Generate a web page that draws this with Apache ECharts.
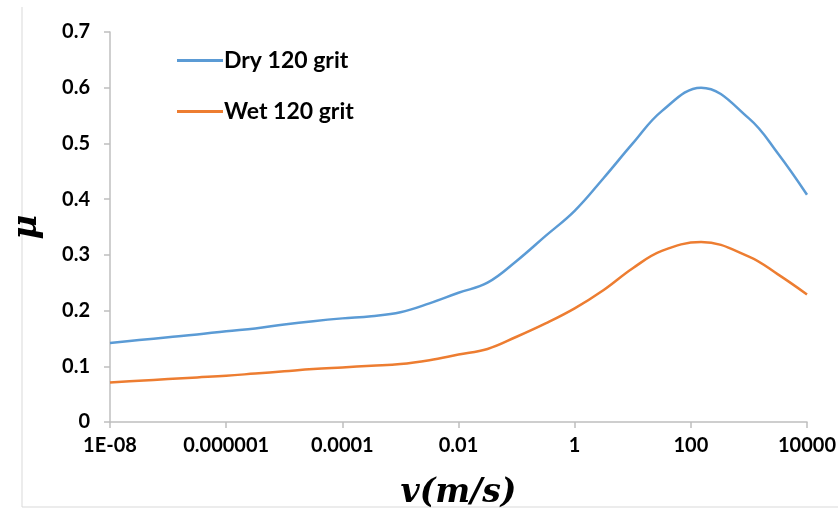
<!DOCTYPE html>
<html>
<head>
<meta charset="utf-8">
<script src="https://cdn.jsdelivr.net/npm/echarts@6/dist/echarts.min.js"></script>
<style>
  html, body { margin: 0; padding: 0; background: #fff; }
  #chart { width: 838px; height: 515px; }
</style>
</head>
<body>
<div id="chart"></div>
<script>
// speeds (m/s), read roughly every half decade plus the peak
var speeds = [1e-8, 3.16e-8, 1e-7, 3.16e-7, 1e-6, 3.16e-6, 1e-5, 3.16e-5, 1e-4, 3.16e-4,
              1e-3, 3.16e-3, 1e-2, 3.16e-2, 0.1, 0.316, 1, 3.16, 10, 31.6,
              150, 1000, 3160, 10000];
var dry120 = [0.142, 0.147, 0.152, 0.157, 0.163, 0.168, 0.175, 0.181, 0.186, 0.190,
              0.197, 0.213, 0.232, 0.250, 0.289, 0.334, 0.379, 0.438, 0.500, 0.558,
              0.600, 0.545, 0.482, 0.408];
var wet120 = [0.071, 0.074, 0.077, 0.080, 0.083, 0.087, 0.091, 0.095, 0.098, 0.101,
              0.104, 0.111, 0.121, 0.131, 0.153, 0.177, 0.204, 0.237, 0.276, 0.307,
              0.323, 0.297, 0.265, 0.229];
var xTickLabels = ['1E-08', '0.000001', '0.0001', '0.01', '1', '100', '10000'];

function pairs(xs, ys) {
    var out = [];
    for (var i = 0; i < xs.length; i++) out.push([xs[i], ys[i]]);
    return out;
}

var chart = echarts.init(document.getElementById('chart'));

var labelFont = { fontFamily: 'Lato', fontWeight: 'bold', fontSize: 20, color: '#000' };

option = {
    animation: false,
    grid: { left: 110, right: 31, top: 32, bottom: 93, outerBoundsMode: 'none', containLabel: false },
    legend: {
        orient: 'vertical',
        left: 172,
        top: 44,
        itemWidth: 46,
        itemHeight: 3,
        itemGap: 28,
        icon: 'rect',
        textStyle: { fontFamily: 'Lato', fontWeight: 'bold', fontSize: 23, color: '#000', padding: [0, 0, 0, -4] },
        data: ['Dry 120 grit', 'Wet 120 grit']
    },
    xAxis: {
        type: 'log',
        logBase: 10,
        min: 1e-8,
        max: 1e4,
        interval: 2,
        name: 'v(m/s)',
        nameLocation: 'middle',
        nameGap: 55,
        nameTextStyle: { fontFamily: 'DejaVu Serif', fontStyle: 'italic', fontWeight: 'bold', fontSize: 33, color: '#000' },
        axisLine: { lineStyle: { color: '#BFBFBF', width: 1.5 } },
        axisTick: { show: true, length: 6, lineStyle: { color: '#BFBFBF', width: 1.5 } },
        minorTick: { show: false },
        splitLine: { show: false },
        axisLabel: Object.assign({
            margin: 14,
            formatter: function (v) {
                var e = Math.round(Math.log10(v));
                var idx = (e + 8) / 2;
                return xTickLabels[idx] !== undefined ? xTickLabels[idx] : '';
            }
        }, labelFont)
    },
    yAxis: {
        type: 'value',
        min: 0,
        max: 0.7,
        interval: 0.1,
        name: 'μ',
        nameLocation: 'middle',
        nameGap: 66,
        nameRotate: 90,
        nameTextStyle: { fontFamily: 'DejaVu Serif', fontStyle: 'italic', fontWeight: 'bold', fontSize: 34, color: '#000' },
        axisLine: { show: true, lineStyle: { color: '#BFBFBF', width: 1.5 } },
        axisTick: { show: true, length: 6, lineStyle: { color: '#BFBFBF', width: 1.5 } },
        splitLine: { show: false },
        axisLabel: Object.assign({ margin: 20 }, labelFont)
    },
    graphic: [
        { type: 'line', shape: { x1: 22, y1: 7, x2: 22, y2: 507 }, style: { stroke: '#D9D9D9', lineWidth: 1 } },
        { type: 'line', shape: { x1: 22, y1: 507, x2: 838, y2: 507 }, style: { stroke: '#D9D9D9', lineWidth: 1 } }
    ],
    series: [
        {
            name: 'Dry 120 grit',
            type: 'line',
            data: pairs(speeds, dry120),
            smooth: 0.4,
            showSymbol: false,
            symbol: 'none',
            color: '#5B9BD5',
            lineStyle: { width: 2.5 }
        },
        {
            name: 'Wet 120 grit',
            type: 'line',
            data: pairs(speeds, wet120),
            smooth: 0.4,
            showSymbol: false,
            symbol: 'none',
            color: '#ED7D31',
            lineStyle: { width: 2.5 }
        }
    ]
};

chart.setOption(option);
</script>
</body>
</html>
